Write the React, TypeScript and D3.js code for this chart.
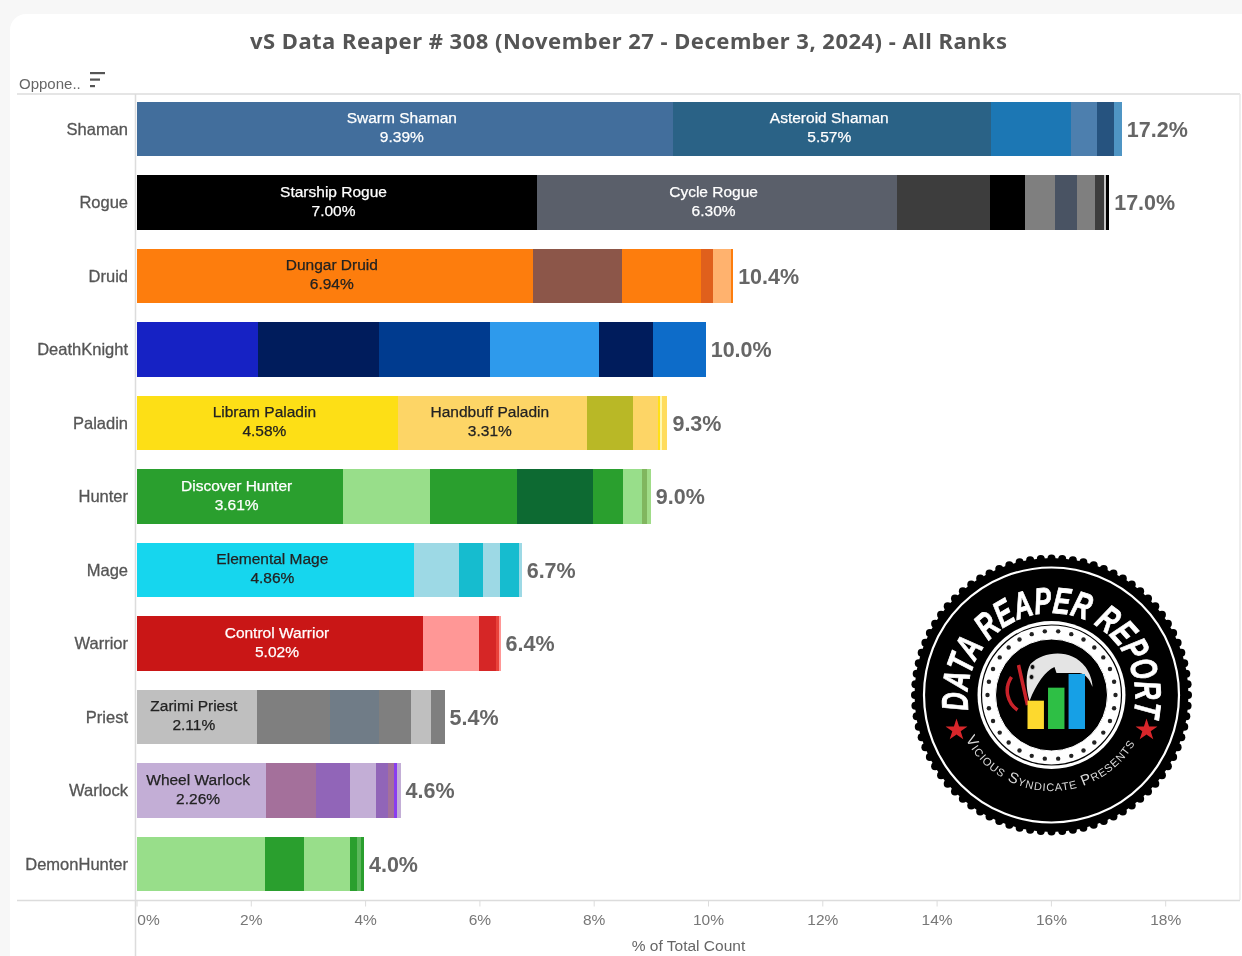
import React, { useEffect, useRef } from "react";
import * as d3 from "d3";

const classes = ["Shaman", "Rogue", "Druid", "DeathKnight", "Paladin", "Hunter", "Mage", "Warrior", "Priest", "Warlock", "DemonHunter"];

const shaman = [9.39, 5.57, 1.4, 0.44, 0.3, 0.14];
const rogue = [7.0, 6.3, 1.64, 0.6, 0.54, 0.38, 0.31, 0.16, 0.03, 0.06];
const druid = [6.94, 1.55, 1.39, 0.21, 0.32, 0.03];
const deathKnight = [2.13, 2.12, 1.94, 1.91, 0.93, 0.93];
const paladin = [4.58, 3.31, 0.8, 0.43, 0.04, 0.04, 0.09];
const hunter = [3.61, 1.52, 1.52, 1.34, 0.52, 0.33, 0.1, 0.06];
const mage = [4.86, 0.79, 0.41, 0.3, 0.33, 0.05];
const warrior = [5.02, 0.98, 0.29, 0.06, 0.02];
const priest = [2.11, 1.27, 0.86, 0.56, 0.36, 0.23];
const warlock = [2.26, 0.88, 0.59, 0.46, 0.21, 0.1, 0.06, 0.06];
const demonHunter = [2.25, 0.68, 0.8, 0.12, 0.08, 0.05];
const shares = [shaman, rogue, druid, deathKnight, paladin, hunter, mage, warrior, priest, warlock, demonHunter];

const colors = [
  ["#426e9c", "#2c6286", "#1f77b4", "#4e7fae", "#25527f", "#4f95c4"],
  ["#000000", "#5a5f6a", "#3d3d3d", "#000000", "#7f7f7f", "#4a5263", "#7f7f7f", "#3d3d3d", "#c4c4c4", "#000000"],
  ["#fd7d0c", "#8c5749", "#fd7d0c", "#e0601e", "#ffb26e", "#fd7d0c"],
  ["#1424c4", "#031a5c", "#063b8f", "#2d9aec", "#031a5c", "#0c6cc9"],
  ["#fddf13", "#fdd566", "#b9b826", "#fdd566", "#ffe014", "#fff8b0", "#ffdc5c"],
  ["#2b9f2e", "#98de8a", "#2b9f2e", "#0f6a30", "#2b9f2e", "#98de8a", "#81b65f", "#a0dc88"],
  ["#18d6ee", "#9dd9e5", "#17bccf", "#9dd9e5", "#17bccf", "#9dd9e5"],
  ["#c91414", "#ff9796", "#d62728", "#e8423a", "#ff9796"],
  ["#bfbfbf", "#7f7f7f", "#6f7b87", "#7f7f7f", "#bfbfbf", "#7f7f7f"],
  ["#c3aed6", "#a46f9b", "#9165b8", "#c3aed6", "#9165b8", "#a46f9b", "#8a3ef0", "#c3aed6"],
  ["#98de8a", "#2b9f2e", "#98de8a", "#2b9f2e", "#5cb85c", "#2b9f2e"],
];

// names printed inside the widest segments
const deckNames = [
  ["Swarm Shaman", "Asteroid Shaman"],
  ["Starship Rogue", "Cycle Rogue"],
  ["Dungar Druid"],
  [],
  ["Libram Paladin", "Handbuff Paladin"],
  ["Discover Hunter"],
  ["Elemental Mage"],
  ["Control Warrior"],
  ["Zarimi Priest"],
  ["Wheel Warlock"],
  [],
];
const lightText = ["Shaman", "Rogue", "Hunter", "Warrior"];

const xTicks = [0, 2, 4, 6, 8, 10, 12, 14, 16, 18];
const logoBars = [1.7, 2.48, 3.3];
const logoBarColors = ["#fdd92e", "#2fbf45", "#12a0e6"];

const sans = "'Liberation Sans', Arial, sans-serif";

const x = d3.scaleLinear().domain([0, 18]).range([136.5, 1165.2]);
const y = d3.scaleBand().domain(classes).range([92.25, 900.75]).paddingInner(0.26).paddingOuter(0.13);

function Logo() {
  const bumps = d3.range(80).map((i) => (i / 80) * 2 * Math.PI);
  const dots = d3.range(30).map((i) => (i / 30) * 2 * Math.PI);
  const barX = d3.scaleBand().domain(["0", "1", "2"]).range([-24, 33.5]).paddingInner(0.2);
  const barY = d3.scaleLinear().domain([0, 3.3]).range([34, -21]);
  const star = d3.symbol().type(d3.symbolStar).size(150)() as string;
  return (
    <g transform="translate(1051.5,695)">
      <circle r={137} fill="#000" />
      {bumps.map((a, i) => (
        <circle key={i} cx={136.5 * Math.cos(a)} cy={136.5 * Math.sin(a)} r={4} fill="#000" />
      ))}
      <circle r={127.5} fill="none" stroke="#fff" strokeWidth={2.2} />
      <circle r={74} fill="#fff" />
      <circle r={70} fill="none" stroke="#000" strokeWidth={1.2} />
      {dots.map((a, i) => (
        <circle key={i} cx={64 * Math.cos(a)} cy={64 * Math.sin(a)} r={2.2} fill="#222" />
      ))}
      <circle r={56} fill="#000" stroke="#fff" strokeWidth={1} />
      <circle r={52} fill="#000" />
      <path d="M-21,-31 C-8,-44 20,-47 34,-28 C38,-22 41,-15 41,-8 C38,-16 34,-21 28,-22 L5,-22 L3,-28 C-6,-24 -15,-12 -22,6 C-26,-8 -26,-22 -21,-31 Z" fill="#e4e4e4" />
      <circle cx={-19} cy={-28} r={2.5} fill="#111" stroke="#ccc" />
      <circle cx={-20} cy={-18} r={2.5} fill="#111" stroke="#ccc" />
      <path d="M-40,-18 C-48,-6 -44,8 -34,15 M-33,-30 L-24,10" fill="none" stroke="#c9242b" strokeWidth={3.5} />
      {logoBars.map((v, i) => (
        <rect key={i} x={barX(String(i))} y={barY(v)} width={barX.bandwidth()} height={barY(0) - barY(v)} fill={logoBarColors[i]} />
      ))}
      <path transform="translate(-95,35)" d={star} fill="#d9262c" />
      <path transform="translate(95,35)" d={star} fill="#d9262c" />
      <defs>
        <path id="logoTop" d="M-83,15 A84,84 0 1 1 83,15" />
        <path id="logoBottom" d="M-86,44 A97,97 0 0 0 86,44" />
      </defs>
      <text fill="#fff" stroke="#fff" strokeWidth={0.8} fontFamily={sans} fontWeight="bold" fontStyle="italic" fontSize={37}>
        <textPath href="#logoTop" textLength={295} lengthAdjust="spacingAndGlyphs">DATA REAPER REPORT</textPath>
      </text>
      <text fill="#d8d8d8" fontFamily={sans} fontSize={15} fontVariant="small-caps">
        <textPath href="#logoBottom" textLength={206} lengthAdjust="spacing">Vicious Syndicate Presents</textPath>
      </text>
    </g>
  );
}

export default function App() {
  const axisRef = useRef<SVGGElement>(null);

  useEffect(() => {
    const axis = d3
      .axisBottom(x)
      .tickValues(xTicks)
      .tickSize(6)
      .tickPadding(7)
      .tickFormat((d) => `${d}%`);
    const g = d3.select(axisRef.current).call(axis as any);
    g.select(".domain").remove();
    g.selectAll("line").attr("stroke", "#dcdcdc");
    g.selectAll("text")
      .attr("fill", "#777")
      .attr("font-family", sans)
      .attr("font-size", "15.5px");
    // first label sits to the right of the axis, the way Tableau draws it
    g.selectAll("text")
      .filter((d) => d === 0)
      .attr("dx", 11.5);
  }, []);

  return (
    <svg width={1242} height={956} style={{ position: "absolute", left: 0, top: 0, display: "block" }}>
      <defs>
        <filter id="soft" x="-2%" y="-2%" width="104%" height="104%">
          <feGaussianBlur stdDeviation="0.45" />
        </filter>
      </defs>
      <rect width={1242} height={956} fill="#f7f7f7" />
      <rect x={10} y={14} width={1260} height={980} rx={16} fill="#fff" />
      <g filter="url(#soft)">
        <text x={628.5} y={48.5} textAnchor="middle" fill="#555" fontFamily="'Noto Sans', sans-serif" fontWeight="bold" fontSize={22} textLength={757} lengthAdjust="spacing">
          vS Data Reaper # 308 (November 27 - December 3, 2024) - All Ranks
        </text>
        <text x={19} y={88.5} fill="#666" fontFamily={sans} fontSize={15}>Oppone..</text>
        <rect x={90} y={72} width={15} height={2.2} fill="#555" />
        <rect x={90} y={78.5} width={10} height={2.2} fill="#555" />
        <rect x={90} y={85} width={5} height={2.2} fill="#555" />

        <line x1={17} x2={1240} y1={94} y2={94} stroke="#dcdcdc" strokeWidth={1.5} />
        <line x1={17} x2={1240} y1={900.5} y2={900.5} stroke="#dcdcdc" strokeWidth={1.5} />
        <line x1={135.5} x2={135.5} y1={94} y2={956} stroke="#dcdcdc" strokeWidth={1.5} />
        <line x1={1240} x2={1240} y1={94} y2={900} stroke="#e8e8e8" strokeWidth={1.5} />

        {classes.map((name, c) => {
          const values = shares[c];
          const ends = Array.from(d3.cumsum(values));
          const total = d3.sum(values);
          const y0 = y(name) as number;
          const h = y.bandwidth();
          const mid = y0 + h / 2;
          const fg = lightText.includes(name) ? "#fff" : "#222";
          return (
            <g key={name}>
              <text x={128} y={mid + 5.5} textAnchor="end" fill="#555" stroke="#555" strokeWidth={0.3} fontFamily={sans} fontSize={16.5}>{name}</text>
              {values.map((v, i) => (
                <rect key={i} x={x(ends[i] - v)} y={y0} width={x(ends[i]) - x(ends[i] - v)} height={h} fill={colors[c][i]} shapeRendering="crispEdges" />
              ))}
              {deckNames[c].map((deck, i) => {
                const tx = x(ends[i] - values[i] / 2) - 3;
                return (
                  <text key={deck} textAnchor="middle" fill={fg} stroke={fg} strokeWidth={0.25} fontFamily={sans} fontSize={15.5}>
                    <tspan x={tx} y={mid - 6}>{deck}</tspan>
                    <tspan x={tx} y={mid + 13}>{values[i].toFixed(2)}%</tspan>
                  </text>
                );
              })}
              <text x={x(total) + 5} y={mid + 7.5} fill="#666" fontFamily={sans} fontWeight="bold" fontSize={21.5}>
                {d3.format(".1f")(total)}%
              </text>
            </g>
          );
        })}

        <g ref={axisRef} transform="translate(0,900.5)" />
        <text x={688.5} y={951} textAnchor="middle" fill="#666" fontFamily={sans} fontSize={15.5}>% of Total Count</text>
        <Logo />
      </g>
    </svg>
  );
}
